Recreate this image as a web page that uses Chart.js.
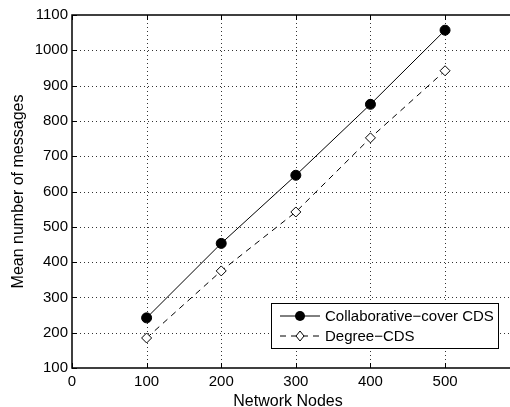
<!DOCTYPE html>
<html>
<head>
<meta charset="utf-8">
<script src="https://cdn.jsdelivr.net/npm/chart.js@4"></script>
<style>
  body { margin: 0; background: #fff; }
  #wrap { width: 510px; height: 407px; }
</style>
</head>
<body>
<div id="wrap"><canvas id="myChart" width="510" height="407"></canvas></div>
<script>
const nodes = [100, 200, 300, 400, 500];
const collabCover = [242, 453, 646, 847, 1057];
const degreeCds = [185, 375, 542, 752, 942];
const xTicks = [0, 100, 200, 300, 400, 500];
const seriesNames = ['Collaborative\u2212cover CDS', 'Degree\u2212CDS'];

const FONT = '"Liberation Sans", Arial, sans-serif';
const W = 510; // the plot runs off the right edge of the picture

// dotted grid, drawn by hand so the dots look like matlab's
const dottedGrid = {
  id: 'dottedGrid',
  beforeDatasetsDraw(chart) {
    const c = chart.ctx;
    const a = chart.chartArea;
    const xs = chart.scales.x, ys = chart.scales.y;
    c.save();
    c.strokeStyle = '#333';
    c.lineWidth = 1;
    c.setLineDash([1, 3]);
    xs.ticks.forEach(t => {
      if (t.value === 0) return;
      const px = Math.round(xs.getPixelForValue(t.value)) + 0.5;
      c.beginPath(); c.moveTo(px, a.top); c.lineTo(px, a.bottom); c.stroke();
    });
    ys.ticks.forEach(t => {
      if (t.value === 100 || t.value === 1100) return;
      const py = Math.round(ys.getPixelForValue(t.value)) + 0.5;
      c.beginPath(); c.moveTo(a.left, py); c.lineTo(W, py); c.stroke();
    });
    c.restore();
  }
};

// legend box drawn inside the plot, like matlab
const legendBox = {
  id: 'legendBox',
  afterDraw(chart) {
    const c = chart.ctx;
    const x0 = 271, y0 = 303, w = 227, h = 45;
    c.save();
    c.fillStyle = '#fff';
    c.fillRect(x0, y0, w, h);
    c.strokeStyle = '#000';
    c.lineWidth = 1;
    c.strokeRect(x0 + 0.5, y0 + 0.5, w, h);
    c.font = '15px ' + FONT;
    c.textBaseline = 'middle';
    c.fillStyle = '#000';
    // row 1
    let y = y0 + 13;
    c.beginPath(); c.moveTo(280, y); c.lineTo(320, y); c.stroke();
    c.beginPath(); c.arc(300, y, 5, 0, Math.PI * 2); c.fill();
    c.fillText(seriesNames[0], 325, y + 1);
    // row 2
    y = y0 + 33;
    c.setLineDash([6, 5]);
    c.beginPath(); c.moveTo(280, y); c.lineTo(320, y); c.stroke();
    c.setLineDash([]);
    c.beginPath();
    c.moveTo(300, y - 5); c.lineTo(304, y); c.lineTo(300, y + 5); c.lineTo(296, y); c.closePath();
    c.fillStyle = '#fff'; c.fill(); c.stroke();
    c.fillStyle = '#000';
    c.fillText(seriesNames[1], 325, y + 1);
    c.restore();
  }
};

// inward tick marks + axis border
const axisFrame = {
  id: 'axisFrame',
  afterDatasetsDraw(chart) {
    const c = chart.ctx;
    const a = chart.chartArea;
    const xs = chart.scales.x, ys = chart.scales.y;
    c.save();
    c.strokeStyle = '#000';
    c.lineWidth = 1;
    xs.ticks.forEach(t => {
      const px = Math.round(xs.getPixelForValue(t.value)) + 0.5;
      c.beginPath(); c.moveTo(px, a.bottom); c.lineTo(px, a.bottom - 5); c.stroke();
      c.beginPath(); c.moveTo(px, a.top); c.lineTo(px, a.top + 5); c.stroke();
    });
    ys.ticks.forEach(t => {
      const py = Math.round(ys.getPixelForValue(t.value)) + 0.5;
      c.beginPath(); c.moveTo(a.left, py); c.lineTo(a.left + 5, py); c.stroke();
    });
    c.lineWidth = 1.5;
    c.beginPath();
    c.moveTo(W, a.top); c.lineTo(a.left, a.top); c.lineTo(a.left, a.bottom); c.lineTo(W, a.bottom);
    c.stroke();
    c.restore();
  }
};

new Chart(document.getElementById('myChart'), {
  type: 'line',
  data: {
    datasets: [
      {
        label: seriesNames[0],
        data: nodes.map((n, i) => ({ x: n, y: collabCover[i] })),
        borderColor: '#000',
        borderWidth: 1,
        backgroundColor: '#000',
        pointStyle: 'circle',
        pointRadius: 5,
        pointBackgroundColor: '#000',
        pointBorderColor: '#000',
        tension: 0
      },
      {
        label: seriesNames[1],
        data: nodes.map((n, i) => ({ x: n, y: degreeCds[i] })),
        borderColor: '#000',
        borderWidth: 1,
        borderDash: [6, 5],
        pointStyle: 'rectRot',
        pointRadius: 5,
        pointBorderWidth: 1,
        pointBackgroundColor: '#fff',
        pointBorderColor: '#000',
        tension: 0
      }
    ]
  },
  options: {
    responsive: false,
    animation: false,
    layout: { padding: { top: 15, right: 0, left: 0, bottom: 0 } },
    plugins: {
      legend: { display: false },
      tooltip: { enabled: false }
    },
    scales: {
      x: {
        type: 'linear',
        min: 0,
        max: 579,
        afterBuildTicks: s => { s.ticks = xTicks.map(v => ({ value: v })); },
        afterFit: s => { s.height = 39; },
        border: { display: false },
        grid: { display: false, drawTicks: false },
        ticks: { color: '#000', font: { family: FONT, size: 15 }, padding: 5, maxRotation: 0, callback: v => String(v) },
        title: { display: true, text: 'Network Nodes', color: '#000', font: { family: FONT, size: 16 }, padding: { top: 0, bottom: -4 } }
      },
      y: {
        min: 100,
        max: 1100,
        afterFit: s => { s.width = 72; },
        border: { display: false },
        grid: { display: false, drawTicks: false },
        ticks: { stepSize: 100, color: '#000', font: { family: FONT, size: 15 }, padding: 4, callback: v => String(v) },
        title: { display: true, text: 'Mean number of messages', color: '#000', font: { family: FONT, size: 16 }, padding: { top: 9, bottom: 2 } }
      }
    }
  },
  plugins: [dottedGrid, axisFrame, legendBox]
});
</script>
</body>
</html>
